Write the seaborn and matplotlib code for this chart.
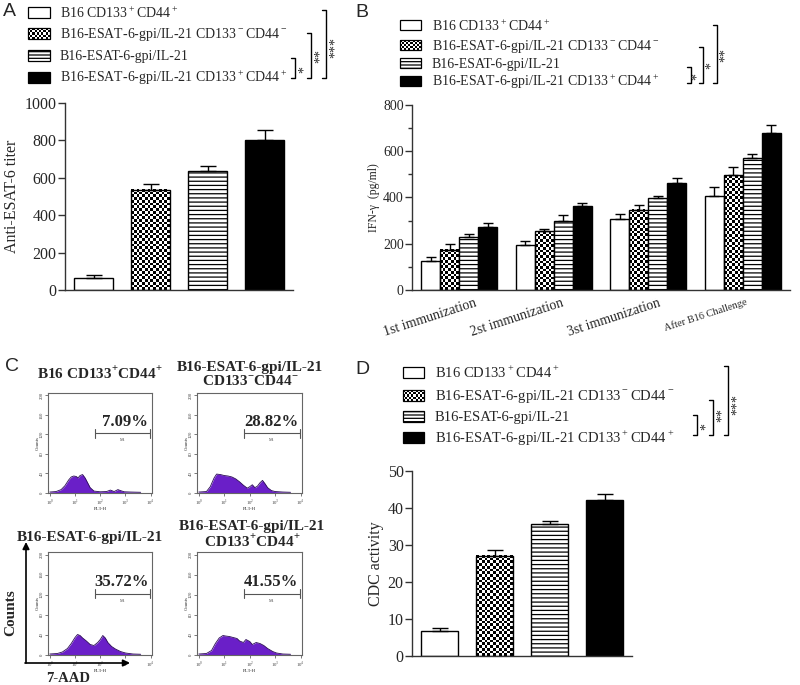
import numpy as np
import pandas as pd
import matplotlib
matplotlib.use("Agg")
import matplotlib.pyplot as plt
import seaborn as sns
from matplotlib.patches import Rectangle
from matplotlib.transforms import ScaledTranslation

# ---- values ----
groups = ["B16 CD133+CD44+", "B16-ESAT-6-gpi/IL-21 CD133-CD44-",
          "B16-ESAT-6-gpi/IL-21", "B16-ESAT-6-gpi/IL-21 CD133+CD44+"]
group_labels = [r"B16 CD133$^+$CD44$^+$",
                r"B16-ESAT-6-gpi/IL-21 CD133$^-$CD44$^-$",
                "B16-ESAT-6-gpi/IL-21",
                r"B16-ESAT-6-gpi/IL-21 CD133$^+$CD44$^+$"]

# A: anti-ESAT-6 titer
titer_mean = [65, 535, 635, 800]
titer_err = [15, 30, 30, 55]

# B: IFN-gamma (pg/ml), one list per group across the time points
timepoints = ["1st immunization", "2st immunization", "3st immunization", "After B16 Challenge"]
ifn_b16 = [125, 195, 305, 408]
ifn_b16_err = [19, 18, 22, 36]
ifn_neg = [173, 255, 346, 497]
ifn_neg_err = [26, 9, 23, 36]
ifn_esat = [228, 298, 396, 569]
ifn_esat_err = [14, 26, 12, 19]
ifn_pos = [274, 363, 461, 680]
ifn_pos_err = [17, 15, 25, 33]

# D: CDC activity
cdc_mean = [6.8, 27.1, 35.7, 42.1]
cdc_err = [0.9, 1.5, 0.7, 1.7]

# C: 7-AAD flow histograms (FL3-H in log decades, counts)
h1_x = [0.0, 0.25, 0.45, 0.6, 0.75, 0.85, 0.95, 1.05, 1.12, 1.2, 1.3, 1.4, 1.5, 1.6, 1.75, 2.0, 2.25, 2.4, 2.55, 2.7, 2.8, 2.95, 3.2, 3.6]
h1_y = [1, 2, 6, 14, 26, 32, 34, 33, 30, 35, 37, 30, 20, 10, 3, 1.5, 2, 5, 2, 6, 4, 1.5, 1, 0.5]
h2_x = [0.0, 0.3, 0.45, 0.6, 0.7, 0.85, 1.0, 1.15, 1.3, 1.45, 1.6, 1.75, 1.9, 2.0, 2.1, 2.2, 2.3, 2.4, 2.5, 2.6, 2.7, 2.85, 3.0, 3.3, 3.6]
h2_y = [1, 2, 12, 30, 38, 37, 35, 34, 32, 28, 22, 15, 9, 12, 16, 10, 13, 20, 25, 18, 10, 4, 2, 1, 0.5]
h3_x = [0.0, 0.3, 0.5, 0.7, 0.85, 1.0, 1.1, 1.2, 1.3, 1.45, 1.6, 1.75, 1.9, 2.0, 2.1, 2.2, 2.3, 2.45, 2.6, 2.8, 3.0, 3.3, 3.6]
h3_y = [1, 2, 5, 12, 22, 34, 40, 38, 33, 27, 20, 18, 24, 30, 38, 33, 24, 16, 11, 6, 3, 1, 0.5]
h4_x = [0.0, 0.3, 0.5, 0.65, 0.8, 0.95, 1.05, 1.2, 1.35, 1.5, 1.6, 1.75, 1.85, 2.0, 2.1, 2.25, 2.4, 2.55, 2.7, 2.9, 3.05, 3.3, 3.6]
h4_y = [1, 2, 8, 22, 33, 38, 37, 36, 34, 32, 27, 24, 30, 26, 20, 24, 22, 18, 12, 6, 3, 1, 0.5]
c_titles = [r"B16 CD133$^{\mathbf{+}}$CD44$^{\mathbf{+}}$",
            "B16-ESAT-6-gpi/IL-21\n" r"CD133$^{\mathbf{-}}$CD44$^{\mathbf{-}}$",
            "B16-ESAT-6-gpi/IL-21",
            "B16-ESAT-6-gpi/IL-21\n" r"CD133$^{\mathbf{+}}$CD44$^{\mathbf{+}}$"]
c_percent = ["7.09%", "28.82%", "35.72%", "41.55%"]
gate = [1.78, 3.98]

sns.set_style("ticks")
plt.rcParams["font.family"] = ["Liberation Serif", "DejaVu Serif"]
plt.rcParams["mathtext.fontset"] = "custom"
plt.rcParams["mathtext.rm"] = "Liberation Serif"
plt.rcParams["mathtext.bf"] = "Liberation Serif:bold"
plt.rcParams["hatch.linewidth"] = 0.9

W, H = 800, 685
fig = plt.figure(figsize=(W / 100, H / 100), dpi=100)


def px_axes(x0, y0, x1, y1):
    return fig.add_axes([x0 / W, 1 - y1 / H, (x1 - x0) / W, (y1 - y0) / H])


def checker(ax, x0, y0, w, h, cell, zorder):
    p0 = ax.transData.transform((x0, y0))
    p1 = ax.transData.transform((x0 + w, y0 + h))
    nx = max(1, int(round(abs(p1[0] - p0[0]) / cell)))
    ny = max(1, int(round(abs(p1[1] - p0[1]) / cell)))
    tex = np.add.outer(np.arange(ny), np.arange(nx)) % 2
    xl, yl = ax.get_xlim(), ax.get_ylim()
    ax.imshow(tex, cmap="gray", extent=(x0, x0 + w, y0, y0 + h), origin="lower",
              interpolation="nearest", aspect="auto", zorder=zorder)
    ax.set_xlim(xl)
    ax.set_ylim(yl)


def style_bars(ax, bars_by_group):
    for k, bars in enumerate(bars_by_group):
        for p in bars:
            p.set_edgecolor("black")
            p.set_linewidth(1)
            p.set_zorder(2)
            if k == 0:
                p.set_facecolor("white")
            elif k == 1:
                p.set_facecolor("none")
                checker(ax, p.get_x(), p.get_y(), p.get_width(), p.get_height(), 2.7, 1.5)
            elif k == 2:
                p.set_facecolor("white")
                p.set_hatch("----")
            else:
                p.set_facecolor("black")


def style_axis(ax, fs):
    sns.despine(ax=ax)
    for s in ["left", "bottom"]:
        ax.spines[s].set_color("#333333")
        ax.spines[s].set_linewidth(1)
    ax.tick_params(axis="y", direction="out", length=5, width=1, color="#333333", labelsize=fs, pad=1)
    ax.set_xticks([])
    ax.set_xlabel("")


# ---- A ----
axA = px_axes(65, 103, 293, 290)
dfA = pd.DataFrame({"group": groups, "titer": titer_mean})
sns.barplot(data=dfA, x="group", y="titer", order=groups, color="white", width=0.67,
            errorbar=None, ax=axA)
axA.set_xlim(-0.5, 3.5)
axA.set_ylim(0, 1000)
axA.set_yticks(range(0, 1001, 200))
style_axis(axA, 11.5)
style_bars(axA, [[p] for p in axA.patches[:4]])
xs = [p.get_x() + p.get_width() / 2 for p in axA.patches[:4]]
axA.errorbar(xs, titer_mean, yerr=[np.zeros(4), titer_err], fmt="none", ecolor="black",
             elinewidth=1, capsize=5.5, capthick=1, zorder=3)
axA.set_ylabel("Anti-ESAT-6 titer", fontsize=11.5, labelpad=3)

# ---- B ----
axB = px_axes(412, 105, 790, 290)
rows = []
for g, vals in zip(groups, [ifn_b16, ifn_neg, ifn_esat, ifn_pos]):
    for t, v in zip(timepoints, vals):
        rows.append({"time": t, "group": g, "ifn": v})
dfB = pd.DataFrame(rows)
sns.barplot(data=dfB, x="time", y="ifn", hue="group", order=timepoints, hue_order=groups,
            palette={g: "white" for g in groups}, width=0.8, errorbar=None, legend=False, ax=axB)
axB.set_xlim(-0.5, 3.5)
axB.set_ylim(0, 800)
axB.set_yticks(range(0, 801, 200))
axB.set_yticks(range(100, 800, 200), minor=True)
style_axis(axB, 10)
axB.tick_params(axis="y", which="minor", length=3, width=1, color="#333333")
bars_B = [list(c.patches) for c in axB.containers]
style_bars(axB, bars_B)
for k, errs in enumerate([ifn_b16_err, ifn_neg_err, ifn_esat_err, ifn_pos_err]):
    bx = [p.get_x() + p.get_width() / 2 for p in bars_B[k]]
    by = [p.get_height() for p in bars_B[k]]
    be = [errs[int(round(x))] for x in bx]
    axB.errorbar(bx, by, yerr=[np.zeros(len(bx)), be], fmt="none", ecolor="black",
                 elinewidth=1, capsize=3.5, capthick=1, zorder=3)
axB.set_ylabel("IFN-γ  (pg/ml)", fontsize=8.5, labelpad=2)
for i, (lab, dx, fs) in enumerate(zip(timepoints, [15, 7, 10, 3], [10, 10, 10, 7.5])):
    axB.text(i, 0, lab, transform=axB.get_xaxis_transform() + ScaledTranslation(dx / 100, -7 / 100, fig.dpi_scale_trans),
             ha="right", va="top", rotation=18, rotation_mode="anchor", fontsize=fs)

# ---- D ----
axD = px_axes(412, 471, 632, 656)
dfD = pd.DataFrame({"group": groups, "cdc": cdc_mean})
sns.barplot(data=dfD, x="group", y="cdc", order=groups, color="white", width=0.66,
            errorbar=None, ax=axD)
axD.set_xlim(-0.5, 3.5)
axD.set_ylim(0, 50)
axD.set_yticks(range(0, 51, 10))
style_axis(axD, 11.5)
style_bars(axD, [[p] for p in axD.patches[:4]])
xs = [p.get_x() + p.get_width() / 2 for p in axD.patches[:4]]
axD.errorbar(xs, cdc_mean, yerr=[np.zeros(4), cdc_err], fmt="none", ecolor="black",
             elinewidth=1, capsize=5.5, capthick=1, zorder=3)
axD.set_ylabel("CDC activity", fontsize=11.5, labelpad=3)

# ---- C: flow histograms ----
boxes = [(48, 393, 152, 493), (197, 393, 302, 493), (48, 552, 152, 655), (197, 552, 302, 655)]
hists = [(h1_x, h1_y), (h2_x, h2_y), (h3_x, h3_y), (h4_x, h4_y)]
for (x0, y0, x1, y1), (hx, hy), pct in zip(boxes, hists, c_percent):
    ax = px_axes(x0, y0, x1, y1)
    ax.fill_between(hx, hy, 0, color="#6a1fc8", lw=0)
    ax.plot(hx, hy, color="#2a0a55", lw=0.6)
    ax.set_xlim(-0.07, 4.05)
    ax.set_ylim(-1, 205)
    ax.set_xticks(range(5))
    ax.set_xticklabels([r"$10^{%d}$" % d for d in range(5)], fontsize=3.5)
    ax.set_yticks(range(0, 201, 40))
    ax.set_yticklabels([str(v) for v in range(0, 201, 40)], fontsize=3.5, rotation=90, va="center")
    ax.tick_params(length=2, width=0.5, pad=1, colors="#444444")
    ax.set_xlabel("FL3-H", fontsize=3.5, labelpad=0)
    ax.set_ylabel("Counts", fontsize=3.5, labelpad=0)
    for s in ax.spines.values():
        s.set_linewidth(0.8)
        s.set_color("#666666")
    ax.plot(gate, [122, 122], color="#555555", lw=0.8)
    for gx in gate:
        ax.plot([gx, gx], [113, 131], color="#555555", lw=0.8)
    ax.text(sum(gate) / 2, 112, "M1", fontsize=3, ha="center", va="top", color="#444444")
    ax.text(3.9, 145, pct, fontsize=12, fontweight="bold", ha="right", va="center")

# ---- overlay: legends, brackets, labels ----
ov = fig.add_axes([0, 0, 1, 1])
ov.set_xlim(0, W)
ov.set_ylim(H, 0)
ov.axis("off")


def legend(bx, text_x, rows_y, bw, bh, fs):
    for k, (y, lab) in enumerate(zip(rows_y, group_labels)):
        r = Rectangle((bx, y - bh / 2), bw, bh, lw=0.9, edgecolor="black", zorder=3,
                      facecolor=["white", "none", "white", "black"][k])
        if k == 1:
            checker(ov, bx, y - bh / 2, bw, bh, 2.2, 2)
        if k == 2:
            r.set_hatch("-----")
        ov.add_patch(r)
        ov.text(text_x, y + 1, lab, fontsize=fs, va="center", ha="left")


def bracket(x, yt, yb, stars, sx, sy, tick=4):
    ov.plot([x - tick, x, x, x - tick], [yt, yt, yb, yb], color="black", lw=1)
    ov.text(sx, sy, stars, rotation=90, ha="center", va="center", fontsize=10)


legend(28, 60, [12, 33, 55, 77], 22, 11, 10)
bracket(295, 58, 78, "*", 304, 69)
bracket(311, 33, 78, "**", 320, 56)
bracket(326, 10, 78, "***", 335, 47)

legend(400, 432, [25, 45, 63, 81], 21, 10, 10)
bracket(691, 67, 83, "*", 697, 76)
bracket(703, 47, 83, "*", 711, 65)
bracket(717, 25, 83, "**", 725, 55)

legend(403, 435, [372, 395, 416, 437], 21, 11, 10.5)
bracket(697, 415, 435, "*", 706, 426)
bracket(713, 400, 435, "**", 722, 415)
bracket(728, 366, 435, "***", 737, 404)

# panel C titles and axis arrows
for (cx, cy), t in zip([(100, 373), (250, 375), (90, 537), (252, 535)], c_titles):
    ov.text(cx, cy, t, fontsize=11, fontweight="bold", ha="center", va="center", linespacing=1.05)
ov.annotate("", xy=(26, 542), xytext=(26, 663),
            arrowprops=dict(arrowstyle="-|>", color="black", lw=1.2, mutation_scale=10, shrinkA=0, shrinkB=0))
ov.annotate("", xy=(130, 663), xytext=(25, 663),
            arrowprops=dict(arrowstyle="-|>", color="black", lw=1.2, mutation_scale=10, shrinkA=0, shrinkB=0))
ov.text(11, 613, "Counts", rotation=90, fontsize=11, fontweight="bold", ha="center", va="center")
ov.text(68, 679, "7-AAD", fontsize=10.5, fontweight="bold", ha="center", va="center")

# panel letters
for lab, x, y in [("A", 3, 3), ("B", 355, 4), ("C", 5, 358), ("D", 355, 361)]:
    ov.text(x, y, lab, fontsize=14, family="Liberation Sans", ha="left", va="top")

fig.savefig("out.png", dpi=100)
